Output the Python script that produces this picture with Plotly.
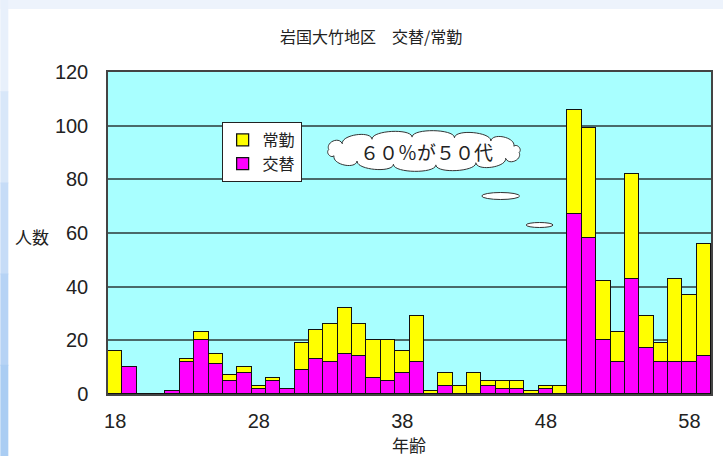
import numpy as np
import plotly.graph_objects as go

# ---------------- data ----------------
ages = list(range(18, 60))
kotai = [0, 10, 0, 0, 1, 12, 20, 11, 5, 8, 2, 5, 2, 9, 13, 12, 15, 14, 6, 5, 8, 12,
         0, 3, 0, 0, 3, 2, 2, 0, 2, 0, 67, 58, 20, 12, 43, 17, 12, 12, 12, 14]
jokin = [16, 0, 0, 0, 0, 1, 3, 4, 2, 2, 1, 1, 0, 10, 11, 14, 17, 12, 14, 15, 8, 17,
         1, 5, 3, 8, 2, 3, 3, 1, 1, 3, 39, 41, 22, 11, 39, 12, 7, 31, 25, 42]
x_ticks = [18, 28, 38, 48, 58]
y_ticks = [0, 20, 40, 60, 80, 100, 120]
title = "岩国大竹地区　交替/常勤"
callout = "６０％が５０代"

# ---------------- layout geometry (pixels) ----------------
W, H = 725, 456
L, R, T, B = 108, 713, 72, 394


def px(xp):
    return (xp - L) / (R - L)


def py(yp):
    return (B - yp) / (B - T)


FONT = "Liberation Sans, Arial, sans-serif"
CJK = "Noto Sans CJK JP, sans-serif"

fig = go.Figure()
fig.add_trace(go.Bar(x=ages, y=kotai, name="交替", marker=dict(color="#ff00ff", line=dict(color="#111111", width=1.3))))
fig.add_trace(go.Bar(x=ages, y=jokin, name="常勤", marker=dict(color="#ffff00", line=dict(color="#111111", width=1.3))))

shapes = []
# page decorations
shapes.append(dict(type="rect", xref="paper", yref="paper", x0=px(0), x1=px(W), y0=py(0), y1=py(9),
                   fillcolor="#edf3fc", line=dict(width=0), layer="below"))
for i, c in enumerate(["#e8f0fb", "#d8e7f9", "#c6dcf7", "#b6d3f5", "#aacdf3"]):
    shapes.append(dict(type="rect", xref="paper", yref="paper", x0=px(0), x1=px(8),
                       y0=py(i * H / 5), y1=py((i + 1) * H / 5 + 1),
                       fillcolor=c, line=dict(width=0), layer="below"))

# cloud callout (rounded lobes along an ellipse)
cx, cy, rx, ry = 425, 151, 96, 14
n = 14
ang = np.linspace(0, 2 * np.pi, n + 1) + 0.1
pts = np.array([(cx + rx * np.cos(a), cy + ry * np.sin(a)) for a in ang])
path = "M %f,%f" % (px(pts[0][0]), py(pts[0][1]))
for i in range(n):
    p0, p1 = pts[i], pts[i + 1]
    c = p1 - p0
    nrm = np.array([c[1], -c[0]]) / np.hypot(*c)
    mid = (p0 + p1) / 2
    if np.dot(nrm, mid - np.array([cx, cy])) < 0:
        nrm = -nrm
    h = 0.55 * np.hypot(*c)
    h = min(h, 9.0)
    c0 = p0 + nrm * h
    c1 = p1 + nrm * h
    path += " C %f,%f %f,%f %f,%f" % (px(c0[0]), py(c0[1]), px(c1[0]), py(c1[1]), px(p1[0]), py(p1[1]))
path += " Z"
shapes.append(dict(type="path", xref="paper", yref="paper", path=path,
                   fillcolor="white", line=dict(color="#333333", width=1)))
# thought bubbles
for (ex, ey, ew, eh) in [(502, 196, 38, 7), (541, 225, 27, 5)]:
    shapes.append(dict(type="circle", xref="paper", yref="paper",
                       x0=px(ex - ew / 2), x1=px(ex + ew / 2), y0=py(ey + eh / 2), y1=py(ey - eh / 2),
                       fillcolor="white", line=dict(color="#333333", width=1)))

annotations = [
    dict(text=title, x=px(372), y=py(36), xref="paper", yref="paper", showarrow=False,
         font=dict(family=CJK, size=16, color="#222222"), xanchor="center", yanchor="middle"),
    dict(text="人数", x=px(32), y=py(236), xref="paper", yref="paper", showarrow=False,
         font=dict(family=CJK, size=17, color="#222222"), xanchor="center", yanchor="middle"),
    dict(text="年齢", x=px(410), y=py(444), xref="paper", yref="paper", showarrow=False,
         font=dict(family=CJK, size=17, color="#222222"), xanchor="center", yanchor="middle"),
    dict(text=callout, x=px(428), y=py(151), xref="paper", yref="paper", showarrow=False,
         font=dict(family=CJK, size=19, color="#222222"), xanchor="center", yanchor="middle"),
]

fig.update_layout(
    width=W, height=H,
    margin=dict(l=L, r=W - R, t=T, b=H - B, pad=0),
    paper_bgcolor="white",
    plot_bgcolor="#a8ffff",
    barmode="stack", bargap=0,
    showlegend=True,
    legend=dict(x=px(222), y=py(122), xanchor="left", yanchor="top",
                bgcolor="white", bordercolor="#222222", borderwidth=1,
                font=dict(family=CJK, size=16, color="#222222"),
                traceorder="reversed", tracegroupgap=0, itemwidth=30),
    shapes=shapes,
    annotations=annotations,
    xaxis=dict(range=[17.5, 59.5], tickmode="array", tickvals=x_ticks,
               ticks="", showgrid=False, zeroline=False,
               showline=True, mirror=True, linecolor="#444444", linewidth=1.5,
               tickfont=dict(family=FONT, size=20, color="#222222"),
               ticklabelstandoff=8),
    yaxis=dict(range=[0, 120], tickmode="array", tickvals=y_ticks,
               ticks="", showgrid=True, gridcolor="#4a6a6a", gridwidth=1.5,
               zeroline=False, showline=True, mirror=True, linecolor="#444444", linewidth=1.5,
               tickfont=dict(family=FONT, size=20, color="#222222"),
               ticklabelstandoff=14),
)

fig.write_html("out.html")
